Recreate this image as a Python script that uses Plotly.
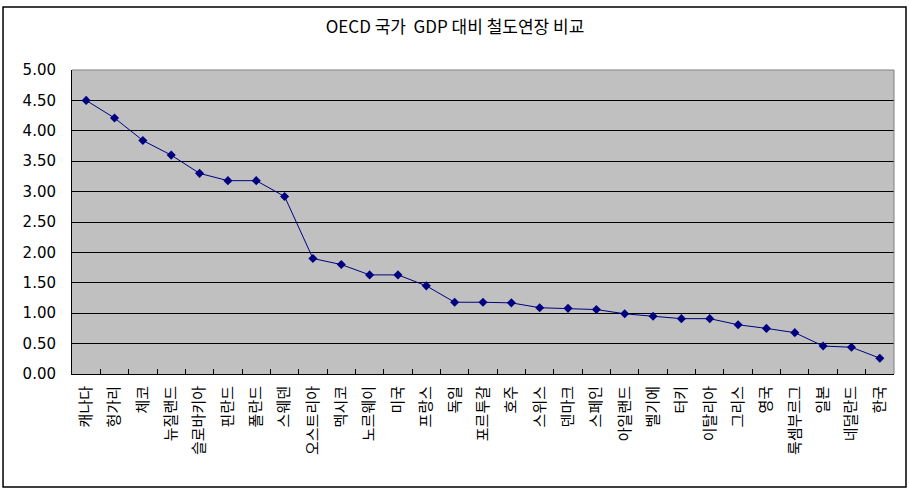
import plotly.graph_objects as go

# OECD countries, rail length relative to GDP
countries = [
    "캐나다", "헝가리", "체코", "뉴질랜드", "슬로바키아", "핀란드", "폴란드", "스웨덴",
    "오스트리아", "멕시코", "노르웨이", "미국", "프랑스", "독일", "포르투갈", "호주",
    "스위스", "덴마크", "스페인", "아일랜드", "벨기에", "터키", "이탈리아", "그리스",
    "영국", "룩셈부르그", "일본", "네덜란드", "한국",
]
values = [
    4.50, 4.21, 3.84, 3.60, 3.30, 3.18, 3.18, 2.92,
    1.90, 1.80, 1.63, 1.63, 1.45, 1.18, 1.18, 1.17,
    1.09, 1.08, 1.06, 0.99, 0.95, 0.91, 0.91, 0.81,
    0.75, 0.68, 0.46, 0.44, 0.26,
]
y_ticks = [0, 0.5, 1.0, 1.5, 2.0, 2.5, 3.0, 3.5, 4.0, 4.5, 5.0]

KR_FONT = "Noto Sans CJK KR"
NAVY = "#000080"

fig = go.Figure()

fig.add_trace(
    go.Scatter(
        x=countries,
        y=values,
        mode="lines+markers",
        line={"color": NAVY, "width": 1},
        marker={"symbol": "diamond", "size": 7, "color": NAVY},
        showlegend=False,
    )
)

fig.update_xaxes(
    type="category",
    range=[-0.5, len(countries) - 0.5],
    automargin=False,
    showline=True,
    linecolor="black",
    linewidth=1,
    ticks="inside",
    tickson="boundaries",
    ticklen=5,
    tickwidth=1,
    tickcolor="black",
    tickangle=-90,
    ticklabelstandoff=5,
    tickfont={"family": KR_FONT, "size": 15, "color": "black"},
    showgrid=False,
    zeroline=False,
)
fig.update_yaxes(
    range=[0, 5],
    automargin=False,
    tickvals=y_ticks,
    tickformat=".2f",
    showline=True,
    linecolor="black",
    linewidth=1,
    showgrid=True,
    gridcolor="black",
    gridwidth=1,
    zeroline=False,
    ticks="",
    ticklabelstandoff=12,
    tickfont={"family": "DejaVu Sans", "size": 15, "color": "black"},
)

# gray border on the top and right of the plot area
fig.add_shape(
    type="path",
    xref="paper",
    yref="paper",
    path="M 0,1 L 1,1 L 1,0",
    line={"color": "#808080", "width": 1},
    layer="above",
)
# outer chart frame
fig.add_shape(
    type="rect",
    xref="paper",
    yref="paper",
    x0=-0.0839,
    x1=1.0146,
    y0=-0.3717,
    y1=1.2072,
    line={"color": "black", "width": 1.5},
    fillcolor="rgba(0,0,0,0)",
    layer="above",
)

fig.update_layout(
    width=910,
    height=493,
    margin={"l": 72, "r": 16, "t": 70, "b": 119},
    paper_bgcolor="white",
    plot_bgcolor="#c0c0c0",
    title={
        "text": "OECD 국가  GDP 대비 철도연장 비교",
        "x": 0.5,
        "xanchor": "center",
        "y": 1 - 27 / 493,
        "yanchor": "middle",
        "font": {"family": KR_FONT, "size": 17, "color": "black"},
    },
)

# drop the default body margin so the figure sits at the page origin
fig.write_html(
    "out.html",
    config={"displayModeBar": False},
    post_script="document.body.style.margin = '0';",
)
